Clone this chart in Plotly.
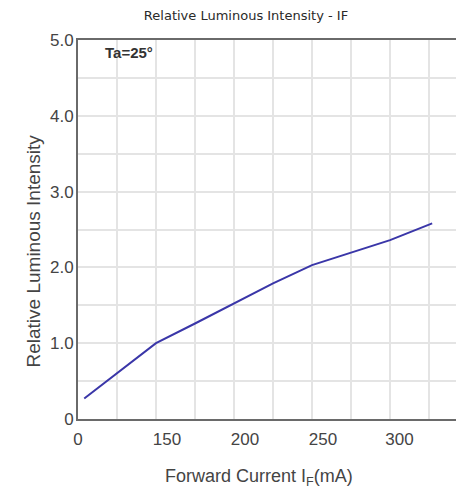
import plotly.graph_objects as go

# Data
forward_current = [104, 125, 150, 175, 200, 225, 250, 300, 327]
relative_intensity = [0.27, 0.60, 1.00, 1.26, 1.52, 1.79, 2.03, 2.36, 2.58]

x_tick_vals = [100, 157, 207, 257, 306]
x_tick_text = ["0", "150", "200", "250", "300"]
y_tick_vals = [0, 1, 2, 3, 4, 5]
y_tick_text = ["0", "1.0", "2.0", "3.0", "4.0", "5.0"]

FONT = "Liberation Sans, Arial, sans-serif"
W, H = 456, 485          # page adds an 8px body margin
L, T, B = 70, 32, 74
PW, PH = W - L, H - T - B

def px(xp):  # page x -> paper fraction
    return (xp - 8 - L) / PW

def py(yp):  # page y -> paper fraction
    return 1 - (yp - 8 - T) / PH

fig = go.Figure()
fig.add_trace(go.Scatter(
    x=forward_current, y=relative_intensity, mode="lines",
    line=dict(color="#3a36a8", width=2), hoverinfo="skip", showlegend=False,
))

fig.update_layout(
    width=W, height=H,
    margin=dict(l=L, r=0, t=T, b=B, autoexpand=False),
    paper_bgcolor="white", plot_bgcolor="white",
    font=dict(family=FONT, color="#444"),
    title=dict(text="Relative Luminous Intensity - IF", x=(246 - 8) / W, xanchor="center",
               yref="container", y=1, yanchor="top", pad=dict(t=3),
               font=dict(family="DejaVu Sans, sans-serif", size=13, color="#2a2a2a")),
)

fig.update_xaxes(
    range=[100, 347.4], tickmode="array", tickvals=x_tick_vals, ticktext=x_tick_text,
    showgrid=False, zeroline=False, automargin=False,
    showline=True, linecolor="#6a6a6a", linewidth=2, mirror=True,
    tickfont=dict(size=17, color="#444"), ticks="", ticklabelstandoff=4,
    minor=dict(dtick=25, tick0=100, showgrid=True, gridcolor="#e4e4e4", gridwidth=2, ticks=""),
)
fig.update_yaxes(
    range=[0, 5], tickmode="array", tickvals=y_tick_vals, ticktext=y_tick_text,
    showgrid=False, zeroline=False, automargin=False,
    showline=True, linecolor="#6a6a6a", linewidth=2,
    tickfont=dict(size=17, color="#444"), ticks="", ticklabelstandoff=-1,
    minor=dict(dtick=0.5, tick0=0, showgrid=True, gridcolor="#e4e4e4", gridwidth=2, ticks=""),
)

fig.add_annotation(text="Forward Current I<sub>F</sub>(mA)", xref="paper", yref="paper",
                   x=px(259), y=py(477), xanchor="center", yanchor="middle", showarrow=False,
                   font=dict(size=18, color="#444"))
fig.add_annotation(text="Relative Luminous Intensity", xref="paper", yref="paper",
                   x=px(20), y=py(251), textangle=-90, showarrow=False,
                   font=dict(size=19, color="#444"))
fig.add_annotation(text="<b>Ta=25°</b>", xref="paper", yref="paper",
                   x=px(103), y=py(52), xanchor="left", yanchor="middle",
                   showarrow=False, font=dict(size=15, color="#333"))

fig.write_html("out.html")
